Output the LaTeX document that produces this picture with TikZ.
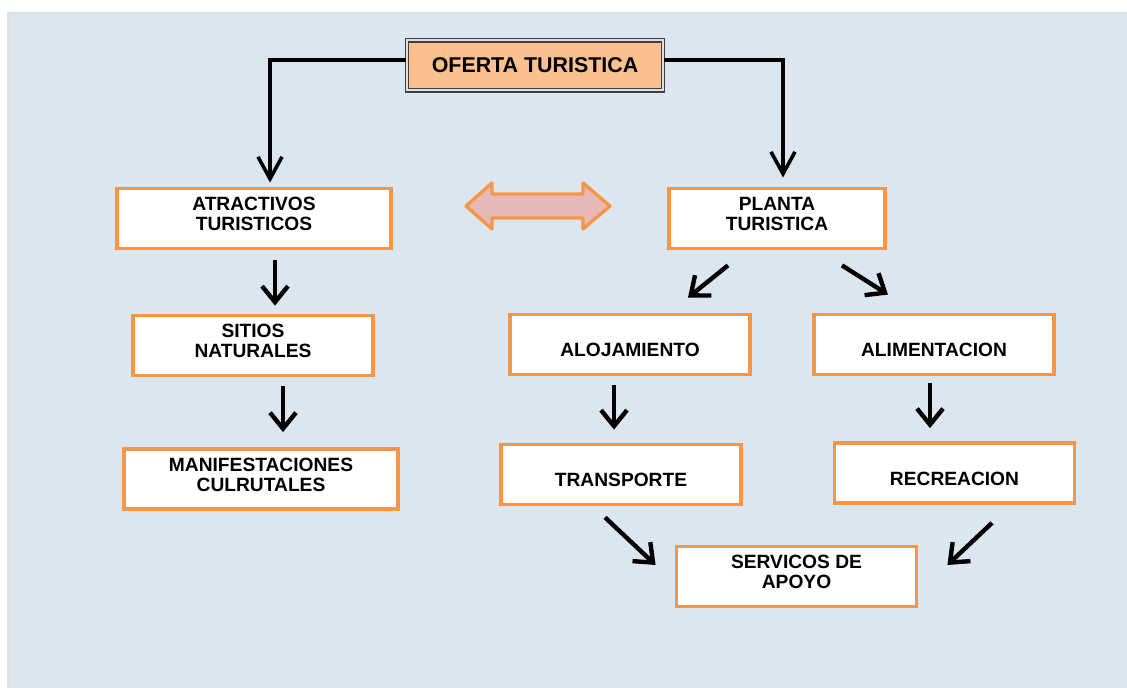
\documentclass[tikz,border=0pt]{standalone}
\usepackage{fontspec}
\setmainfont{Liberation Sans}
\usetikzlibrary{arrows.meta}
\definecolor{bgblue}{HTML}{DCE6F1}
\definecolor{boxorange}{HTML}{F79646}
\definecolor{peach}{HTML}{FAC090}
\definecolor{rosy}{HTML}{E6B9B8}
\newcommand{\lowstrut}{\rule[-4.5pt]{0pt}{0pt}}
\tikzset{
  box/.style={draw=boxorange,line width=1.9pt,fill=white,align=center,
    minimum height=30pt,inner sep=1pt,
    font=\fontsize{9.6}{10}\selectfont\bfseries},
  oneline/.style={text height=12.5pt,text depth=0pt},
  titlebox/.style={draw=black!75,double=gray!25,double distance=1pt,line width=.7pt,
    fill=peach,minimum width=128pt,minimum height=25pt,
    font=\fontsize{10.7}{12}\selectfont\bfseries},
  arr/.style={line width=2.2pt,-{Straight Barb[length=8pt,width=13pt]}},
  link/.style={line width=1.8pt,-{Straight Barb[length=11pt,width=12pt]}},
}
\begin{document}
\begin{tikzpicture}[x=0.5pt,y=-0.5pt]
\useasboundingbox (0,0) rectangle (1127,688);
\fill[bgblue] (8,13) rectangle (1127,688);
\draw[gray!25,line width=.6pt] (8,688) -- (8,13) -- (1127,13);
% top
\node[titlebox] (oferta) at (535,65.5) {OFERTA TURISTICA};
% left column
\node[box,minimum width=137pt] (atr) at (254,218.5) {ATRACTIVOS\\TURISTICOS\lowstrut};
\node[box,minimum width=120pt] (sit) at (253,345.5) {SITIOS\\NATURALES\lowstrut};
\node[box,minimum width=137pt] (man) at (261,479) {MANIFESTACIONES\\CULRUTALES\lowstrut};
% right side
\node[box,minimum width=108pt] (pla) at (777,218.5) {PLANTA\\TURISTICA\lowstrut};
\node[box,oneline,minimum width=120pt] (alo) at (630,344.5) {ALOJAMIENTO};
\node[box,oneline,minimum width=120pt] (ali) at (934,344.5) {ALIMENTACION};
\node[box,oneline,minimum width=120pt] (tra) at (621,474.5) {TRANSPORTE};
\node[box,oneline,minimum width=120pt] (rec) at (954.5,473) {RECREACION};
\node[box,minimum width=120pt] (ser) at (796.5,576.5) {SERVICOS DE\\APOYO\lowstrut};
% double arrow between the two branches
\filldraw[fill=rosy,draw=boxorange,line width=1.7pt,line join=round]
  (466,206) -- (492,183) -- (492,194) -- (583,194) -- (583,183) -- (610,206)
  -- (583,229) -- (583,218) -- (492,218) -- (492,229) -- cycle;
% connectors
\draw[link] ([yshift=2.75pt]oferta.west) -| ([xshift=8pt,yshift=2pt]atr.north);
\draw[link] ([yshift=2.75pt]oferta.east) -| ([xshift=3pt,yshift=4.5pt]pla.north);
\draw[arr] ([xshift=10.5pt,yshift=-5pt]atr.south) -- ([xshift=11pt,yshift=4pt]sit.north);
\draw[arr] ([xshift=15pt,yshift=-4.5pt]sit.south) -- ([xshift=11pt,yshift=7.5pt]man.north);
\draw[arr] ([xshift=-24.5pt,yshift=-7.5pt]pla.south) -- ([xshift=29pt,yshift=7.5pt]alo.north);
\draw[arr] ([xshift=32.5pt,yshift=-7.5pt]pla.south) -- ([xshift=-23pt,yshift=9pt]ali.north);
\draw[arr] ([xshift=-8pt,yshift=-4.5pt]alo.south) -- ([xshift=-3.5pt,yshift=6.5pt]tra.north);
\draw[arr] ([xshift=-2pt,yshift=-3.5pt]ali.south) -- ([xshift=-12.25pt,yshift=6.5pt]rec.north);
\draw[arr] ([xshift=-8pt,yshift=-5.5pt]tra.south) -- ([xshift=-9.5pt,yshift=5.75pt]ser.west);
\draw[arr] ([xshift=18.75pt,yshift=-9pt]rec.south) -- ([xshift=14.5pt,yshift=5.75pt]ser.east);
\end{tikzpicture}
\end{document}
